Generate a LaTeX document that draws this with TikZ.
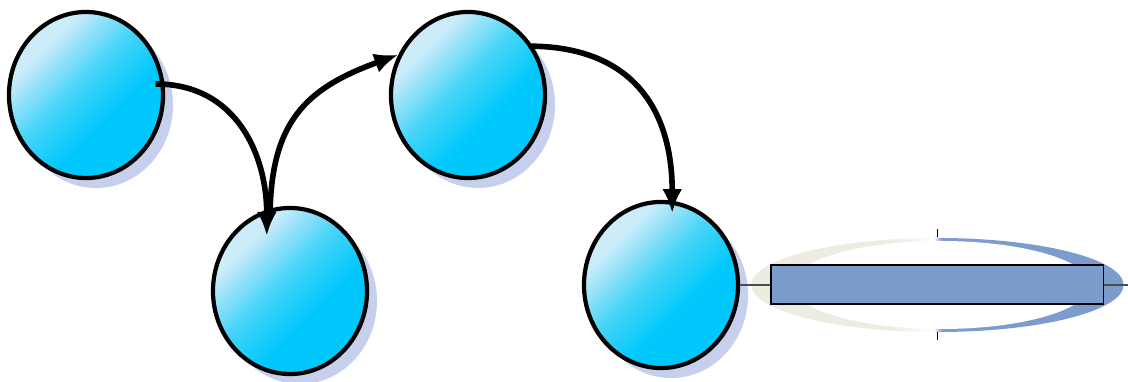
\documentclass[tikz,border=0pt]{standalone}
\usetikzlibrary{arrows.meta,positioning,shapes.geometric,shadows}
\definecolor{CyanLight}{RGB}{205,236,250}
\definecolor{CyanMid}{RGB}{70,212,248}
\definecolor{CyanDeep}{RGB}{0,200,252}
\definecolor{ShadeBlue}{RGB}{198,208,237}
\definecolor{RingBeige}{RGB}{236,236,224}
\definecolor{RingBlue}{RGB}{123,156,205}
\pgfdeclarehorizontalshading{ringshade}{100bp}{color(0bp)=(RingBeige); color(44bp)=(RingBeige);
  color(49.5bp)=(white); color(50.5bp)=(RingBlue); color(100bp)=(RingBlue)}
\pgfdeclareverticalshading{bubbleshade}{100bp}{color(0bp)=(CyanDeep); color(40bp)=(CyanDeep);
  color(54bp)=(CyanMid); color(70bp)=(CyanLight); color(100bp)=(CyanLight)}
\tikzset{
  bubble/.style={ellipse,draw=black,line width=3pt,inner sep=0pt,
    minimum width=3.85cm,minimum height=4.15cm,
    shading=bubbleshade,shading angle=45,
    general shadow={fill=ShadeBlue,shadow xshift=0.25cm,shadow yshift=-0.25cm}},
  hop/.style={-{Latex[length=0.6cm,width=0.5cm]},line width=4pt,black},
  whisker/.style={draw=gray!60!black,line width=0.9pt},
  boxbar/.style={draw=black,fill=RingBlue,line width=0.8pt,inner sep=0pt,
    minimum width=8.3cm,minimum height=0.975cm},
  tick/.style={draw=black,line width=0.7pt}
}
\begin{document}
\begin{tikzpicture}[x=0.025cm,y=0.025cm]
  \useasboundingbox (0,0) rectangle (1128,381);
  % ring behind the bar
  \shade[shading=ringshade] (937.5,96) ellipse [x radius=4.65cm, y radius=1.175cm];
  \fill[white] (941,96) ellipse [x radius=3.725cm, y radius=1.1cm];
  % bubbles
  \node[bubble] (c1) at (86,286) {};
  \node[bubble] (c2) at (290,90) {};
  \node[bubble] (c3) at (468,286) {};
  \node[bubble] (c4) at (661,96) {};
  % hops
  \draw[hop] ([xshift=-0.22cm]c1.8) to[out=0,in=90,looseness=1.1] ([xshift=-0.58cm,yshift=-0.75cm]c2.north);
  \draw[hop] ([xshift=-0.5cm,yshift=-0.33cm]c2.north) to[out=90,in=200,looseness=1.2] (c3.150);
  \draw[hop] ([xshift=-0.1cm]c3.37) to[out=0,in=90,looseness=1.2] ([xshift=0.28cm,yshift=-0.33cm]c4.north);
  % bar with whisker
  \coordinate (wend) at (1128,96);
  \draw[whisker] (c4.east) -- (wend);
  \node[boxbar] (bar) at (937,96.5) {};
  \draw[tick] (937,144) -- (937,152);
  \draw[tick] (937,41) -- (937,49);
\end{tikzpicture}
\end{document}
